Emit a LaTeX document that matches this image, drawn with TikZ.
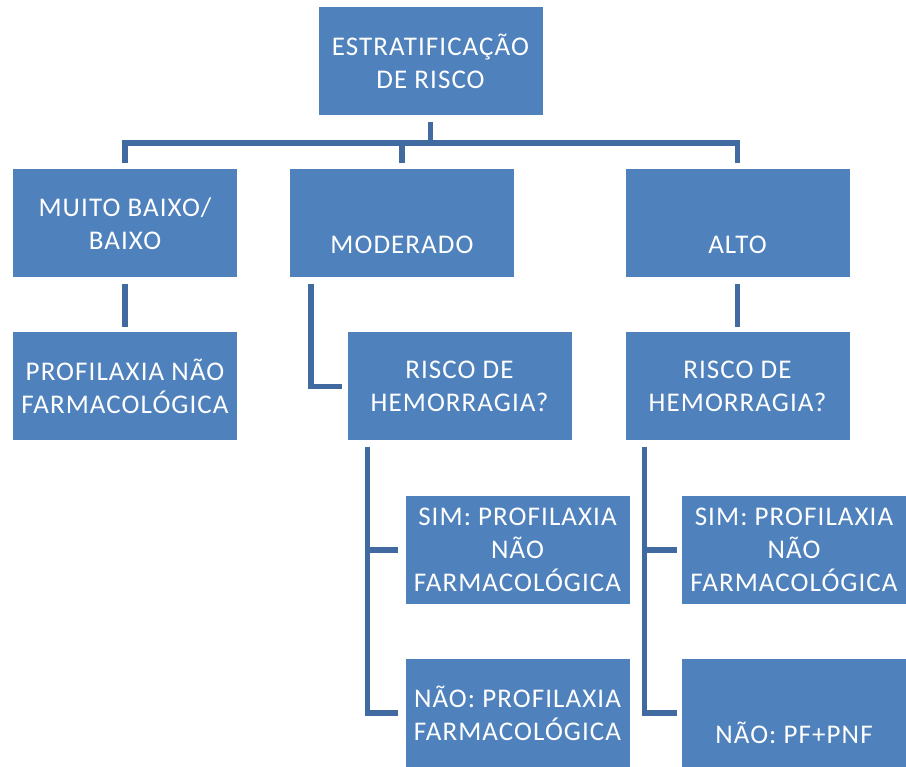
\documentclass[tikz,border=0pt]{standalone}
\usepackage{fontspec}
\newfontfamily\boxfont{Carlito}[LetterSpace=4]
\definecolor{boxblue}{RGB}{79,129,189}
\definecolor{lineblue}{RGB}{65,107,160}
\begin{document}
\begin{tikzpicture}[x=1pt,y=-1pt,
  box/.style={rectangle, fill=boxblue, draw=none, minimum width=224pt, minimum height=108pt,
    inner sep=0pt, align=center, text=white, font=\boxfont\fontsize{27}{33}\selectfont},
  lowtext/.style={text height=60pt, text depth=0pt},
  conn/.style={draw=lineblue, line width=5.5pt, line join=miter, line cap=butt}]
\useasboundingbox (0,0) rectangle (906,767);
\node[box] (top) at (430.5,61) {ESTRATIFICAÇÃO\\DE RISCO};
\node[box] (b1) at (125,223.5) {MUITO BAIXO/\\BAIXO};
\node[box, lowtext] (b2) at (402,223.5) {MODERADO};
\node[box, lowtext] (b3) at (737.5,223.5) {ALTO};
\node[box] (b4) at (125,386.5) {PROFILAXIA NÃO\\FARMACOLÓGICA};
\node[box] (b5) at (459.5,386.5) {RISCO DE\\HEMORRAGIA?};
\node[box] (b6) at (737.5,386.5) {RISCO DE\\HEMORRAGIA?};
\node[box] (b7) at (517.5,550) {SIM: PROFILAXIA\\NÃO\\FARMACOLÓGICA};
\node[box] (b8) at (517.5,713) {NÃO: PROFILAXIA\\FARMACOLÓGICA};
\node[box] (b9) at (794,550) {SIM: PROFILAXIA\\NÃO\\FARMACOLÓGICA};
\node[box, lowtext] (b10) at (794,713) {NÃO: PF+PNF};
% bus from top
\coordinate (bus) at ([yshift=-28pt]top.south);
\draw[conn, shorten <=7pt] (top.south) -- (bus);
\draw[conn, shorten >=6pt] (bus) -| (b1.north);
\draw[conn, shorten >=6pt] (bus) -| (b2.north);
\draw[conn, shorten >=6pt] (bus) -| (b3.north);
% level 2 to 3
\draw[conn, shorten <=6pt, shorten >=5pt] (b1.south) -- (b4.north);
\draw[conn, shorten <=6pt, shorten >=5pt] (b3.south) -- (b6.north);
\draw[conn, shorten <=6pt, shorten >=5pt] ([xshift=21pt]b2.south west) |- (b5.west);
% level 3 to 4
\draw[conn, shorten <=6pt, shorten >=7pt] ([xshift=20pt]b5.south west) |- (b7.west);
\draw[conn, shorten <=6pt, shorten >=7pt] ([xshift=20pt]b5.south west) |- (b8.west);
\draw[conn, shorten <=6pt, shorten >=5pt] ([xshift=19pt]b6.south west) |- (b9.west);
\draw[conn, shorten <=6pt, shorten >=5pt] ([xshift=19pt]b6.south west) |- (b10.west);
\end{tikzpicture}
\end{document}
